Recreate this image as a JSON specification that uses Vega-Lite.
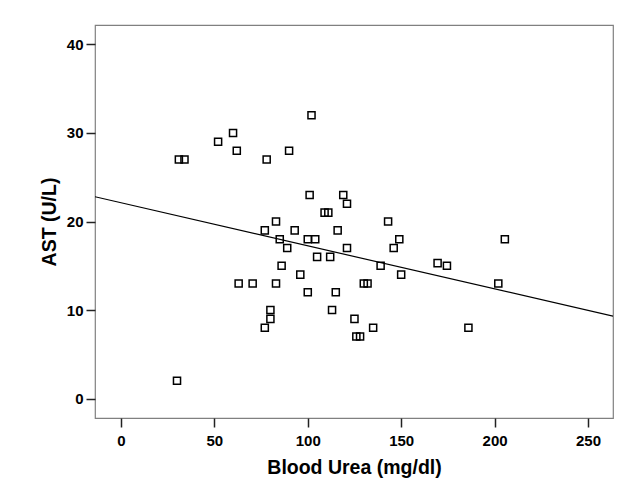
{
  "$schema": "https://vega.github.io/schema/vega-lite/v6.json",
  "autosize": {"type": "none"},
  "padding": {"left": 95, "top": 25, "right": 10, "bottom": 82},
  "width": 518,
  "height": 393,
  "background": "white",
  "config": {
    "view": {"stroke": "#808080", "strokeWidth": 1.2},
    "font": "Liberation Sans",
    "axis": {
      "domain": false,
      "grid": false,
      "ticks": true,
      "tickSize": 9,
      "tickColor": "#222222",
      "tickWidth": 1.5,
      "labelFont": "Liberation Sans",
      "labelFontWeight": "bold",
      "labelFontSize": 15,
      "labelColor": "#000000",
      "titleFont": "Liberation Sans",
      "titleFontWeight": "bold",
      "titleFontSize": 19.5,
      "titleColor": "#000000"
    }
  },
  "datasets": {
    "pts": [
      {"urea": 31, "ast": 27}, {"urea": 34, "ast": 27}, {"urea": 52, "ast": 29}, {"urea": 60, "ast": 30},
      {"urea": 62, "ast": 28}, {"urea": 78, "ast": 27}, {"urea": 90, "ast": 28}, {"urea": 102, "ast": 32},
      {"urea": 101, "ast": 23}, {"urea": 119, "ast": 23}, {"urea": 121, "ast": 22}, {"urea": 109, "ast": 21},
      {"urea": 111, "ast": 21}, {"urea": 83, "ast": 20}, {"urea": 143, "ast": 20}, {"urea": 77, "ast": 19},
      {"urea": 93, "ast": 19}, {"urea": 116, "ast": 19}, {"urea": 85, "ast": 18}, {"urea": 100, "ast": 18},
      {"urea": 104, "ast": 18}, {"urea": 149, "ast": 18}, {"urea": 205.5, "ast": 18}, {"urea": 89, "ast": 17},
      {"urea": 121, "ast": 17}, {"urea": 146, "ast": 17}, {"urea": 105, "ast": 16}, {"urea": 112, "ast": 16},
      {"urea": 86, "ast": 15}, {"urea": 139, "ast": 15}, {"urea": 169.5, "ast": 15.3}, {"urea": 174.5, "ast": 15},
      {"urea": 96, "ast": 14}, {"urea": 150, "ast": 14}, {"urea": 63, "ast": 13}, {"urea": 70.5, "ast": 13},
      {"urea": 83, "ast": 13}, {"urea": 130, "ast": 13}, {"urea": 132, "ast": 13}, {"urea": 202, "ast": 13},
      {"urea": 100, "ast": 12}, {"urea": 115, "ast": 12}, {"urea": 80, "ast": 10}, {"urea": 113, "ast": 10},
      {"urea": 80, "ast": 9}, {"urea": 125, "ast": 9}, {"urea": 77, "ast": 8}, {"urea": 135, "ast": 8},
      {"urea": 186, "ast": 8}, {"urea": 126, "ast": 7}, {"urea": 128, "ast": 7}, {"urea": 30, "ast": 2}
    ],
    "fit": [
      {"urea": -13.9, "ast": 22.8},
      {"urea": 263.4, "ast": 9.3}
    ]
  },
  "layer": [
    {
      "data": {"name": "pts"},
      "mark": {"type": "point", "shape": "square", "filled": false, "color": "#000000", "strokeWidth": 1.5, "size": 50, "opacity": 1},
      "encoding": {
        "x": {
          "field": "urea", "type": "quantitative",
          "scale": {"domain": [-13.9, 263.4], "nice": false, "zero": false},
          "axis": {"values": [0, 50, 100, 150, 200, 250], "title": "Blood Urea (mg/dl)", "labelPadding": 6, "titlePadding": 10}
        },
        "y": {
          "field": "ast", "type": "quantitative",
          "scale": {"domain": [-2.2, 42.2], "nice": false, "zero": false},
          "axis": {"values": [0, 10, 20, 30, 40], "title": "AST (U/L)", "labelPadding": 3, "titlePadding": 7}
        }
      }
    },
    {
      "data": {"name": "fit"},
      "mark": {"type": "line", "color": "#000000", "strokeWidth": 1.2, "clip": true},
      "encoding": {
        "x": {"field": "urea", "type": "quantitative"},
        "y": {"field": "ast", "type": "quantitative"}
      }
    }
  ]
}
